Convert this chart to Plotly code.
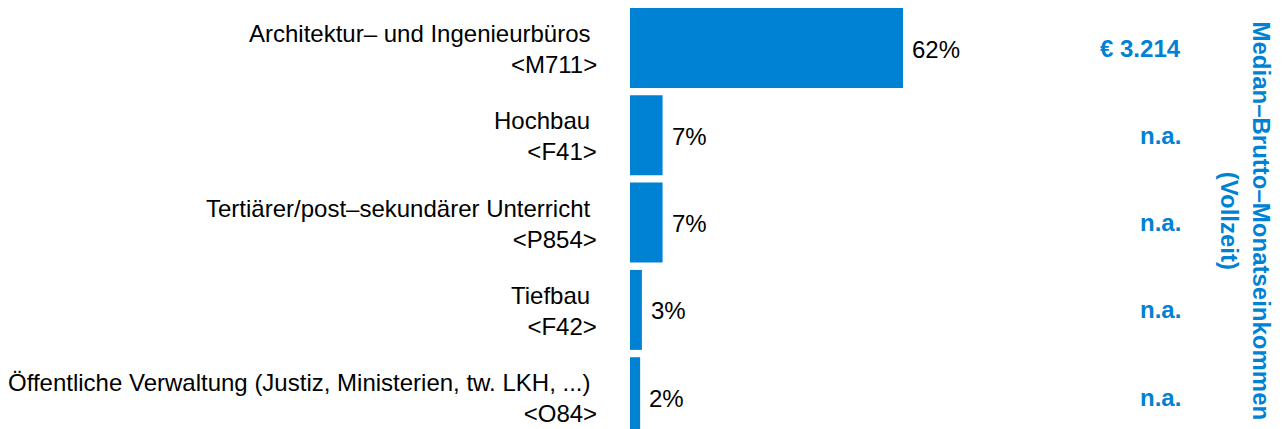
import plotly.graph_objects as go

categories = [
    "Architektur– und Ingenieurbüros",
    "Hochbau",
    "Tertiärer/post–sekundärer Unterricht",
    "Tiefbau",
    "Öffentliche Verwaltung (Justiz, Ministerien, tw. LKH, ...)",
]
codes = ["M711", "F41", "P854", "F42", "O84"]
shares = [62.0, 7.4, 7.4, 2.7, 2.3]
share_labels = ["62%", "7%", "7%", "3%", "2%"]
income_labels = ["€ 3.214", "n.a.", "n.a.", "n.a.", "n.a."]
side_title = "Median–Brutto–Monatseinkommen<br>(Vollzeit)"

BLUE = "#0082D4"
FONT = "Liberation Sans, Arial, sans-serif"
FS = 24

# page has an 8px body margin; figure coords = page coords - 8
L = 622
R = 1172
PITCH = 87.3
TOP_OFF = 40  # row-1 centre below plot top

fig = go.Figure()
fig.add_trace(go.Bar(
    y=list(range(len(categories))),
    x=shares,
    orientation="h",
    marker=dict(color=BLUE, line=dict(width=0)),
    hoverinfo="skip",
))

annotations = []
for i, (cat, code, val, lab, inc) in enumerate(zip(categories, codes, shares, share_labels, income_labels)):
    annotations.append(dict(
        x=0, y=i, xref="x", yref="y",
        text=cat + "\u00a0<br>&lt;" + code + "&gt;",
        xanchor="right", yanchor="middle", align="right",
        xshift=-31, yshift=-1, showarrow=False,
        font=dict(family=FONT, size=FS, color="#000000"),
    ))
    annotations.append(dict(
        x=val, y=i, xref="x", yref="y",
        text=lab, xanchor="left", yanchor="middle",
        xshift=7, yshift=-1, showarrow=False,
        font=dict(family=FONT, size=FS, color="#000000"),
    ))
    annotations.append(dict(
        x=1, y=i, xref="paper", yref="y",
        text="<b>" + inc + "</b>", xanchor="right", yanchor="middle",
        xshift=3, showarrow=False,
        font=dict(family=FONT, size=FS, color=BLUE),
    ))

annotations.append(dict(
    x=(1237 - L) / (R - L), y=1 - 212.5 / 429, xref="paper", yref="paper",
    text="<b>" + side_title + "</b>", textangle=90,
    xanchor="center", yanchor="middle", align="center",
    showarrow=False,
    font=dict(family=FONT, size=FS, color=BLUE),
))

top = -TOP_OFF / PITCH
fig.update_layout(
    width=1282, height=429,
    margin=dict(l=L, r=1282 - R, t=0, b=0),
    paper_bgcolor="white", plot_bgcolor="white",
    showlegend=False,
    bargap=0.084,
    xaxis=dict(range=[0, (R - L) / (273 / 62.0)], visible=False, fixedrange=True),
    yaxis=dict(range=[top + 429 / PITCH, top], visible=False, fixedrange=True),
    annotations=annotations,
)

fig.write_html("out.html")
